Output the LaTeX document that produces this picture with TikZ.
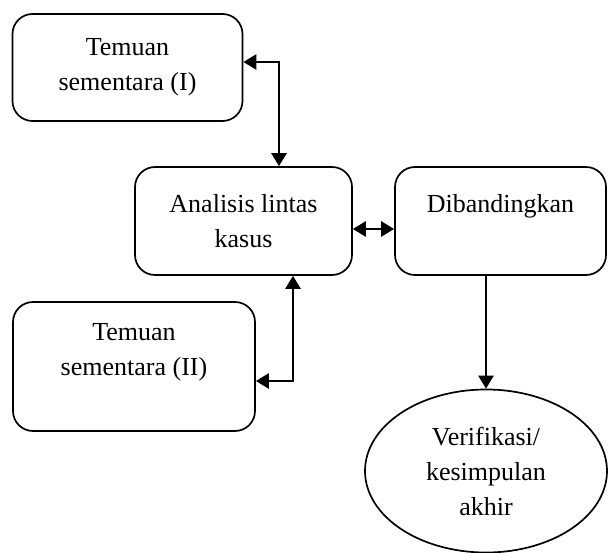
\documentclass[tikz,border=0pt]{standalone}
\usepackage{fontspec}
\setmainfont{Liberation Serif}
\usetikzlibrary{arrows.meta,shapes.geometric}
\tikzset{
  box/.style={draw, line width=1.7pt, rounded corners=20pt, align=center, inner sep=0pt,
    font=\fontsize{26}{35}\selectfont},
  oval/.style={draw, ellipse, line width=1.7pt, align=center, inner sep=0pt,
    minimum width=242pt, minimum height=163pt, font=\fontsize{26}{35}\selectfont},
  conn/.style={line width=2.6pt, {Triangle[length=13pt,width=15pt]}-{Triangle[length=13pt,width=15pt]}},
  oneway/.style={line width=2.6pt, -{Triangle[length=13pt,width=15pt]}}
}
\begin{document}
\begin{tikzpicture}[x=1pt,y=-1pt]
\useasboundingbox (0,0) rectangle (608,553);
\node[box, minimum width=230pt, minimum height=107pt] (b1) at (127.5,67.5) {Temuan\\sementara (I)};
\node[box, minimum width=217pt, minimum height=108pt] (b2) at (243.5,221) {Analisis lintas\\kasus};
\node[box, minimum width=211pt, minimum height=108pt] (b3) at (500.5,221) {Dibandingkan\\\mbox{}};
\node[box, minimum width=242pt, minimum height=129pt] (b4) at (134,366.5) {Temuan\\sementara (II)\\\mbox{}};
\node[oval] (e) at (486,471) {Verifikasi/\\kesimpulan\\akhir};
\coordinate (c1) at (279,62);
\coordinate (c2) at (293,381);
\coordinate (c3) at (373,229);
\draw[conn] (b1.east |- c1) -| (b2.north -| c1);
\draw[conn] (b4.east |- c2) -| (b2.south -| c2);
\draw[conn] (b2.east |- c3) -- (b3.west |- c3);
\draw[oneway] (e.north |- b3.south) -- (e.north);
\end{tikzpicture}
\end{document}
